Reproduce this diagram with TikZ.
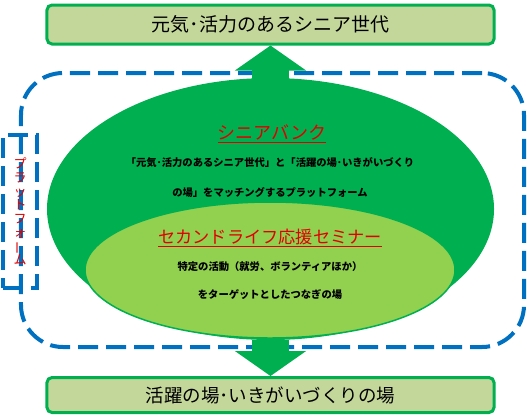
\documentclass[tikz,border=0pt]{standalone}
\usepackage{fontspec}
\setmainfont{Noto Sans CJK JP}
\usepackage{xcolor}
\definecolor{boxfill}{HTML}{C4D79B}
\definecolor{darkgreen}{HTML}{00B050}
\definecolor{lightgreen}{HTML}{92D050}
\definecolor{frameblue}{HTML}{0070C0}
\definecolor{titlered}{HTML}{E00000}
\usepackage{tikz}
\usetikzlibrary{shapes.geometric,arrows.meta}

\begin{document}
\begin{tikzpicture}[x=1bp, y=-1bp,
    genbox/.style={draw=darkgreen, line width=3bp, fill=boxfill, rounded corners=5bp, minimum width=447bp, inner sep=0pt},
    dashframe/.style={draw=frameblue, line width=4bp, dash pattern=on 20bp off 8bp, inner sep=0pt},
    bigarrow/.style={darkgreen, line width=37bp, -{Triangle[length=25bp, width=70bp]}},
    desc/.style={font=\fontsize{10.3bp}{12bp}\selectfont\bfseries, text=black},
    title/.style={text=titlered}]
  \useasboundingbox (0,0) rectangle (527,417);
  % platform frame
  \node[dashframe, rounded corners=42bp, minimum width=503bp, minimum height=274bp] (platform) at (272.5,210) {};
  \node[dashframe, minimum width=34bp, minimum height=153bp, align=center, text=titlered,
        font=\fontsize{13bp}{13.75bp}\selectfont] (platlabel) at (20,211.5)
        {プ\\ラ\\ッ\\ト\\フ\\ォ\\\rotatebox[origin=c]{90}{ー}\\ム};
  % ellipses
  \node[ellipse, fill=darkgreen, minimum width=447bp, minimum height=262bp, inner sep=0pt] (bank) at (270.5,209) {};
  \node[ellipse, fill=lightgreen, draw=darkgreen, line width=1.5bp, minimum width=370bp, minimum height=136bp, inner sep=0pt] (seminar) at (270,270) {};
  % boxes
  \node[genbox, minimum height=39bp, font=\fontsize{19bp}{22bp}\selectfont] (senior) at (270.5,24.5) {元気･活力のあるシニア世代};
  \node[genbox, minimum height=35bp, font=\fontsize{18.5bp}{22bp}\selectfont] (place) at (270.5,395) {活躍の場･いきがいづくりの場};
  % arrows
  \draw[bigarrow] ([yshift=-3bp]bank.north) -- (senior.south);
  \draw[bigarrow] (bank.south) -- (place.north);
  % texts
  \node[title, font=\fontsize{18bp}{20bp}\selectfont] (banktitle) at (272,134) {\underline{シニアバンク}};
  \node[desc] (bankline1) at (270,163) {「元気･活力のあるシニア世代」と「活躍の場･いきがいづくり};
  \node[desc] (bankline2) at (270,193) {の場」をマッチングするプラットフォーム};
  \node[title, font=\fontsize{17.2bp}{20bp}\selectfont] (seminartitle) at (270,238) {\underline{セカンドライフ応援セミナー}};
  \node[desc] (seminarline1) at (270,267) {特定の活動（就労、ボランティアほか）};
  \node[desc] (seminarline2) at (270,295) {をターゲットとしたつなぎの場};
\end{tikzpicture}
\end{document}
